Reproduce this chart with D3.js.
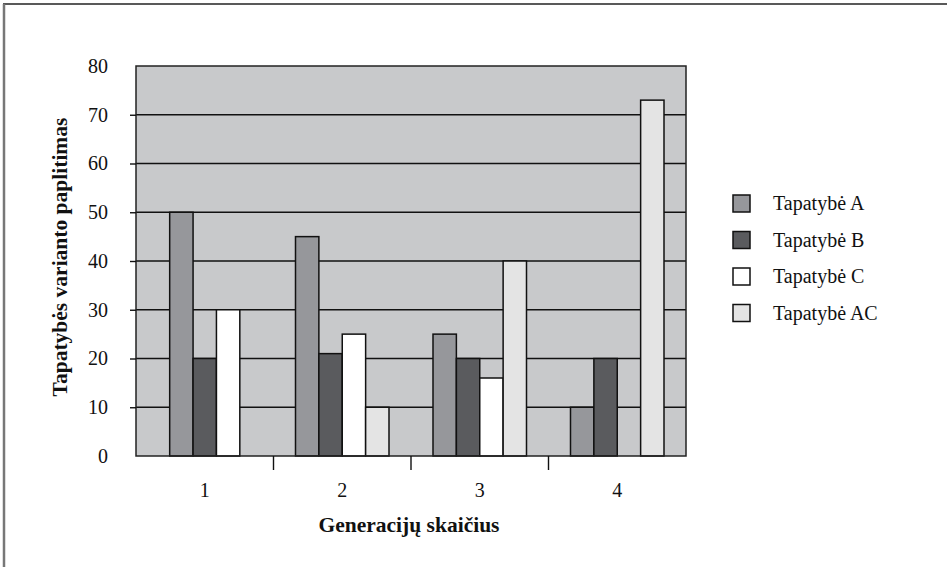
<!DOCTYPE html>
<html>
<head>
<meta charset="utf-8">
<script src="https://cdn.jsdelivr.net/npm/d3@7"></script>
<style>
  html, body { margin: 0; padding: 0; background: #fff; }
  svg text { font-family: "Liberation Serif", "Times New Roman", serif; fill: #111; }
</style>
</head>
<body>
<div id="chart"></div>
<script>
// 数据
const categories = ["1", "2", "3", "4"];
const seriesNames = ["Tapatybė A", "Tapatybė B", "Tapatybė C", "Tapatybė AC"];
const valuesA = [50, 45, 25, 10];
const valuesB = [20, 21, 20, 20];
const valuesC = [30, 25, 16, 0];
const valuesAC = [null, 10, 40, 73];
const yTicks = [0, 10, 20, 30, 40, 50, 60, 70, 80];
const xTitle = "Generacijų skaičius";
const yTitle = "Tapatybės varianto paplitimas";

const seriesValues = [valuesA, valuesB, valuesC, valuesAC];
const seriesColors = ["#96979b", "#5a5b5e", "#ffffff", "#e4e4e4"];

const width = 947, height = 567;
const margin = { top: 66, right: 261, bottom: 111, left: 136 };

const svg = d3.select("#chart").append("svg")
    .attr("width", width)
    .attr("height", height);

// 外框
svg.append("line")
    .attr("x1", 3).attr("x2", width).attr("y1", 4).attr("y2", 4)
    .attr("stroke", "#222").attr("stroke-width", 1.5);
svg.append("line")
    .attr("x1", 4).attr("x2", 4).attr("y1", 4).attr("y2", height)
    .attr("stroke", "#777").attr("stroke-width", 2.5);

const x0 = d3.scaleBand()
    .domain(categories)
    .range([margin.left, width - margin.right]);

const y = d3.scaleLinear()
    .domain([0, 80])
    .range([height - margin.bottom, margin.top]);

const plotW = width - margin.right - margin.left;
const plotH = height - margin.bottom - margin.top;

// 绘图区背景
svg.append("rect")
    .attr("x", margin.left).attr("y", margin.top)
    .attr("width", plotW).attr("height", plotH)
    .attr("fill", "#c8c9cb");

// 网格线
svg.append("g")
    .selectAll("line")
    .data(yTicks.filter(d => d > 0 && d < 80))
    .enter().append("line")
    .attr("x1", margin.left).attr("x2", width - margin.right)
    .attr("y1", d => y(d)).attr("y2", d => y(d))
    .attr("stroke", "#111").attr("stroke-width", 1.4);

// 柱子
const barW = x0.bandwidth() * 0.17;
categories.forEach((cat, i) => {
    const items = seriesNames
        .map((name, k) => ({ name, k, value: seriesValues[k][i] }))
        .filter(d => d.value !== null);
    const c = x0(cat) + x0.bandwidth() / 2;
    const x1 = d3.scaleBand()
        .domain(items.map(d => d.name))
        .range([c - items.length * barW / 2, c + items.length * barW / 2]);

    svg.append("g")
        .selectAll("rect")
        .data(items.filter(d => d.value > 0))
        .enter().append("rect")
        .attr("x", d => x1(d.name))
        .attr("y", d => y(d.value))
        .attr("width", x1.bandwidth())
        .attr("height", d => y(0) - y(d.value))
        .attr("fill", d => seriesColors[d.k])
        .attr("stroke", "#111")
        .attr("stroke-width", 1.5);
});

// 绘图区边框
svg.append("rect")
    .attr("x", margin.left).attr("y", margin.top)
    .attr("width", plotW).attr("height", plotH)
    .attr("fill", "none")
    .attr("stroke", "#222").attr("stroke-width", 1.5);

// Y轴
const yAxis = svg.append("g")
    .attr("transform", `translate(${margin.left}, 0)`)
    .call(d3.axisLeft(y).tickValues(yTicks).tickSize(6).tickPadding(22));
yAxis.select(".domain").remove();
yAxis.selectAll(".tick line")
    .attr("stroke", "#111").attr("stroke-width", 1.4)
    .attr("display", d => (d === 0 || d === 80) ? "none" : null);
yAxis.selectAll("text")
    .attr("font-family", "Liberation Serif")
    .style("font-size", "20px")
    .attr("fill", "#111");

// X轴
const xAxis = svg.append("g")
    .attr("transform", `translate(0, ${height - margin.bottom})`)
    .call(d3.axisBottom(x0).tickSize(0).tickPadding(27));
xAxis.select(".domain").remove();
xAxis.selectAll("text")
    .attr("font-family", "Liberation Serif")
    .style("font-size", "20px")
    .attr("fill", "#111");

// 分组分隔刻度
svg.append("g")
    .selectAll("line")
    .data(categories.slice(1))
    .enter().append("line")
    .attr("x1", d => x0(d)).attr("x2", d => x0(d))
    .attr("y1", y(0)).attr("y2", y(0) + 14)
    .attr("stroke", "#111").attr("stroke-width", 1.4);

// 轴标题
svg.append("text")
    .attr("x", margin.left + plotW / 2 - 2)
    .attr("y", 532)
    .attr("text-anchor", "middle")
    .attr("font-size", "21.5px")
    .attr("font-weight", "bold")
    .text(xTitle);

svg.append("text")
    .attr("transform", "rotate(-90)")
    .attr("x", -257)
    .attr("y", 67)
    .attr("text-anchor", "middle")
    .attr("font-size", "21.5px")
    .attr("font-weight", "bold")
    .text(yTitle);

// 图例
const legend = svg.append("g")
    .selectAll("g")
    .data(seriesNames)
    .enter().append("g")
    .attr("transform", (d, i) => `translate(733, ${195 + i * 36.5})`);
legend.append("rect")
    .attr("width", 17).attr("height", 17)
    .attr("fill", (d, i) => seriesColors[i])
    .attr("stroke", "#111").attr("stroke-width", 1.5);
legend.append("text")
    .attr("x", 40)
    .attr("y", 15)
    .attr("font-size", "20px")
    .text(d => d);
</script>
</body>
</html>
